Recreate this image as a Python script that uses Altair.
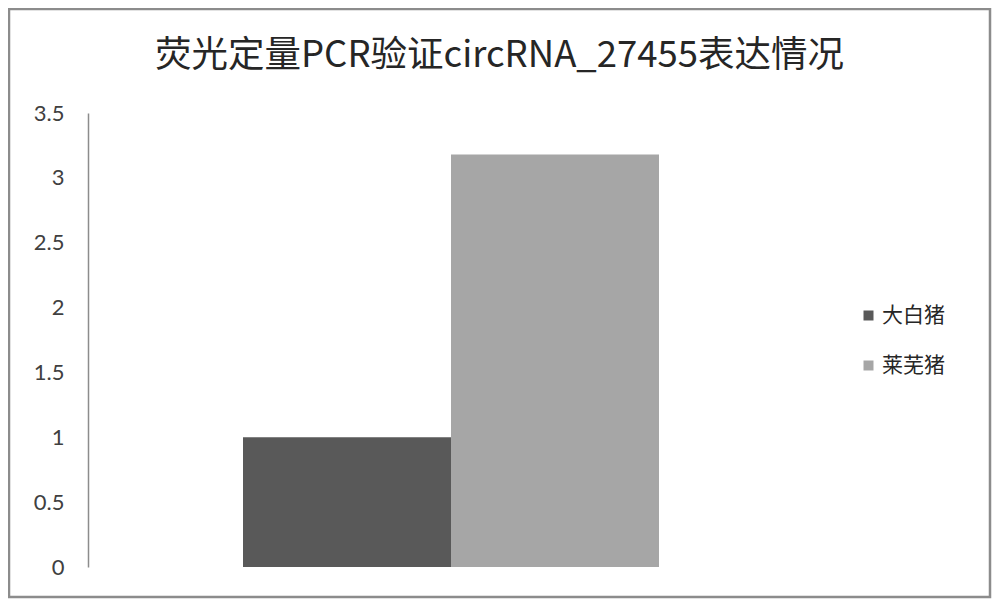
import altair as alt
import pandas as pd

series = ["大白猪", "莱芜猪"]
values = [1.0, 3.18]
colors = ["#595959", "#a6a6a6"]
y_ticks = [0, 0.5, 1, 1.5, 2, 2.5, 3, 3.5]
title_text = "荧光定量PCR验证circRNA_27455表达情况"

df = pd.DataFrame({"series": series, "value": values})

chart = alt.Chart(df).mark_bar().encode(
    x=alt.X("series:N", sort=series, axis=None,
            scale=alt.Scale(range=[234, 650], paddingInner=0, paddingOuter=0)),
    y=alt.Y("value:Q",
            scale=alt.Scale(domain=[0, 3.5], range=[558, 104], nice=False, zero=True),
            axis=alt.Axis(values=y_ticks, format=".1~f", title=None, grid=False,
                          ticks=False, offset=-79, labelPadding=24,
                          labelFont="Lato", labelFontSize=22, labelColor="#404040",
                          domainColor="#8c8c8c", domainWidth=1.5)),
    color=alt.Color("series:N", sort=series,
                    scale=alt.Scale(domain=series, range=colors),
                    legend=alt.Legend(title=None, orient="none", legendX=849, legendY=296,
                                      symbolType="square", symbolSize=100,
                                      symbolStrokeWidth=0, labelFont="Noto Sans CJK SC",
                                      labelFontSize=21, labelColor="#262626",
                                      rowPadding=28, labelOffset=3, padding=0)),
).properties(
    width=981,
    height=588,
    padding={"left": 1, "top": 1, "right": 2, "bottom": 2},
    autosize=alt.AutoSizeParams(type="none"),
    title=alt.TitleParams(title_text, anchor="middle", frame="group", offset=-65,
                          font="Noto Sans CJK SC", fontSize=36.5, fontWeight="normal",
                          color="#262626"),
).configure_view(
    stroke="#8c8c8c", strokeWidth=2.5
)

chart.save("out.html", embed_options={"renderer": "svg", "actions": False})
